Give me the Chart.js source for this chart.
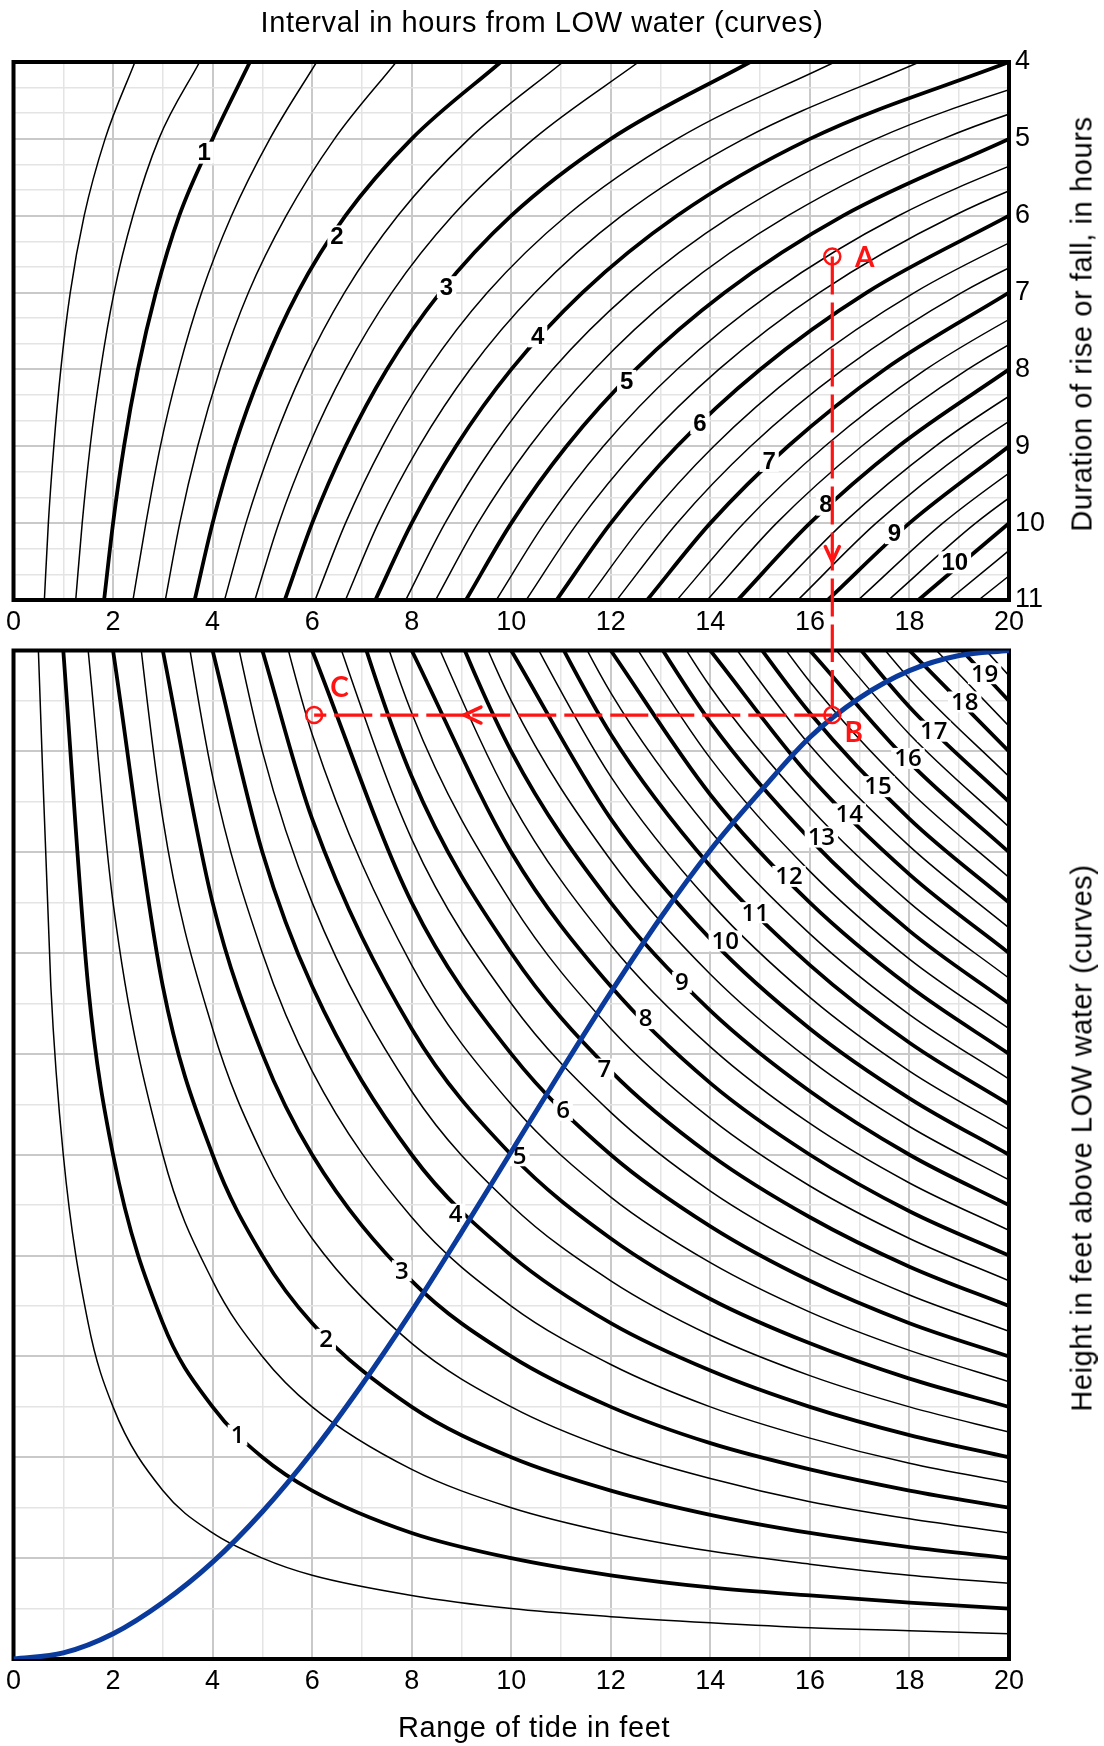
<!DOCTYPE html>
<html lang="en">
<head>
<meta charset="UTF-8">
<title>Height of tide at any time</title>
<script src="https://cdn.jsdelivr.net/npm/chart.js@4.4.0/dist/chart.umd.min.js"></script>
<style>
  body { margin: 0; background: #fff; }
  .page { position: relative; width: 1104px; height: 1746px; overflow: hidden;
          font-family: "Liberation Sans", Arial, sans-serif; color: #000; }
  canvas { position: absolute; left: 0; }
  #topChart { top: 0; }
  #bottomChart { top: 640px; }
  .title { position: absolute; font-size: 29px; letter-spacing: 0.6px; white-space: nowrap; line-height: 1; }
  .title.h { transform: translate(-50%, -50%); }
  .title.v { transform: translate(-50%, -50%) rotate(-90deg); }
</style>
</head>
<body>
<div class="page">
  <canvas id="topChart" width="1104" height="640"></canvas>
  <canvas id="bottomChart" width="1104" height="1106"></canvas>
  <div class="title h" style="left:542px; top:22px;">Interval in hours from LOW water (curves)</div>
  <div class="title v" style="left:1082px; top:324px;">Duration of rise or fall, in hours</div>
  <div class="title v" style="left:1082px; top:1138px;">Height in feet above LOW water (curves)</div>
  <div class="title h" style="left:534px; top:1727px;">Range of tide in feet</div>
</div>

<script>
// ---------- values ----------
const rangeTicks = [0, 2, 4, 6, 8, 10, 12, 14, 16, 18, 20];
const durationTicks = [4, 5, 6, 7, 8, 9, 10, 11];

// top panel: interval from low water (minutes, every 20 min, heavy line every hour)
const intervalMinutes = [20, 40, 60, 80, 100, 120, 140, 160, 180, 200, 220, 240, 260, 280, 300, 320, 340,
  360, 380, 400, 420, 440, 460, 480, 500, 520, 540, 560, 580, 600, 620, 640, 660];
// durations (h) where each interval curve was read, from the bottom of the panel up
const durationRows = [11, 10, 9, 8, 7, 6, 5, 4];
// range position (ft) of each interval curve at those durations
const intervalCurves = [
  [0.62, 0.70, 0.81, 0.95, 1.14, 1.42, 1.84, 2.44],
  [1.25, 1.38, 1.54, 1.75, 2.02, 2.40, 2.92, 3.74],
  [1.82, 2.00, 2.22, 2.50, 2.86, 3.33, 4.00, 4.75],
  [2.40, 2.66, 2.95, 3.32, 3.78, 4.38, 5.15, 6.09],
  [3.05, 3.34, 3.70, 4.15, 4.72, 5.48, 6.45, 7.69],
  [3.64, 4.00, 4.44, 5.00, 5.71, 6.67, 8.00, 9.79],
  [4.24, 4.67, 5.19, 5.83, 6.65, 7.72, 9.15, 11.04],
  [4.85, 5.33, 5.93, 6.67, 7.60, 8.82, 10.45, 12.56],
  [5.45, 6.00, 6.67, 7.50, 8.57, 10.00, 12.00, 14.80],
  [6.06, 6.67, 7.41, 8.33, 9.52, 11.11, 13.33, 16.50],
  [6.67, 7.33, 8.15, 9.17, 10.48, 12.22, 14.67, 18.20],
  [7.27, 8.00, 8.89, 10.00, 11.43, 13.33, 16.00, 20.00],
  [7.88, 8.67, 9.63, 10.83, 12.38, 14.44, 17.33, 21.67],
  [8.48, 9.33, 10.37, 11.67, 13.33, 15.56, 18.67, 23.33],
  [9.09, 10.00, 11.11, 12.50, 14.29, 16.67, 20.00],
  [9.70, 10.67, 11.85, 13.33, 15.24, 17.78, 21.33],
  [10.30, 11.33, 12.59, 14.17, 16.19, 18.89, 22.67],
  [10.91, 12.00, 13.33, 15.00, 17.14, 20.00],
  [11.52, 12.67, 14.07, 15.83, 18.10, 21.11],
  [12.12, 13.33, 14.81, 16.67, 19.05, 22.22],
  [12.73, 14.00, 15.56, 17.50, 20.00],
  [13.33, 14.67, 16.30, 18.33, 20.95],
  [13.94, 15.33, 17.04, 19.17, 21.90],
  [14.55, 16.00, 17.78, 20.00],
  [15.15, 16.67, 18.52, 20.83],
  [15.76, 17.33, 19.26, 21.67],
  [16.36, 18.00, 20.00],
  [16.97, 18.67, 20.74],
  [17.58, 19.33, 21.48],
  [18.18, 20.00],
  [18.79, 20.67],
  [19.39, 21.33],
  [20.00, 22.00]
];
const intervalLabels = ['1', '2', '3', '4', '5', '6', '7', '8', '9', '10'];
const intervalLabelRange = [3.83, 6.50, 8.70, 10.53, 12.32, 13.79, 15.18, 16.32, 17.70, 18.91];
const intervalLabelDur = [5.18, 6.27, 6.93, 7.57, 8.15, 8.70, 9.19, 9.76, 10.13, 10.51];

// bottom panel: height above low water (ft), heavy line every foot
const heightLevels = [0.5, 1, 1.5, 2, 2.5, 3, 3.5, 4, 4.5, 5, 5.5, 6, 6.5, 7, 7.5, 8, 8.5, 9, 9.5, 10,
  10.5, 11, 11.5, 12, 12.5, 13, 13.5, 14, 14.5, 15, 15.5, 16, 16.5, 17, 17.5, 18, 18.5, 19, 19.5];
// range columns (ft) where the height curves were read; each row fills the last columns
const rangeCols = [0.5, 0.75, 1, 1.5, 2, 3, 4, 5, 6, 8, 10, 12, 14, 16, 18, 20];
// fraction of range (0 = bottom of panel, 1 = top) for each height curve
const heightCurves = [
  [1.0, 0.667, 0.5, 0.333, 0.25, 0.167, 0.125, 0.1, 0.083, 0.063, 0.05, 0.042, 0.036, 0.031, 0.028, 0.025],
  [1.0, 0.667, 0.5, 0.333, 0.25, 0.2, 0.167, 0.125, 0.1, 0.083, 0.071, 0.063, 0.056, 0.05],
  [1.0, 0.75, 0.5, 0.375, 0.3, 0.25, 0.188, 0.15, 0.125, 0.107, 0.094, 0.083, 0.075],
  [1.0, 0.667, 0.5, 0.4, 0.333, 0.25, 0.2, 0.167, 0.143, 0.125, 0.111, 0.1],
  [1.25, 0.833, 0.625, 0.5, 0.417, 0.313, 0.25, 0.208, 0.179, 0.156, 0.139, 0.125],
  [1.0, 0.75, 0.6, 0.5, 0.375, 0.3, 0.25, 0.214, 0.188, 0.167, 0.15],
  [1.167, 0.875, 0.7, 0.583, 0.438, 0.35, 0.292, 0.25, 0.219, 0.194, 0.175],
  [1.0, 0.8, 0.667, 0.5, 0.4, 0.333, 0.286, 0.25, 0.222, 0.2],
  [1.125, 0.9, 0.75, 0.563, 0.45, 0.375, 0.321, 0.281, 0.25, 0.225],
  [1.0, 0.833, 0.625, 0.5, 0.417, 0.357, 0.313, 0.278, 0.25],
  [1.1, 0.917, 0.688, 0.55, 0.458, 0.393, 0.344, 0.306, 0.275],
  [1.0, 0.75, 0.6, 0.5, 0.429, 0.375, 0.333, 0.3],
  [1.083, 0.813, 0.65, 0.542, 0.464, 0.406, 0.361, 0.325],
  [1.167, 0.875, 0.7, 0.583, 0.5, 0.438, 0.389, 0.35],
  [1.25, 0.938, 0.75, 0.625, 0.536, 0.469, 0.417, 0.375],
  [1.0, 0.8, 0.667, 0.571, 0.5, 0.444, 0.4],
  [1.063, 0.85, 0.708, 0.607, 0.531, 0.472, 0.425],
  [1.125, 0.9, 0.75, 0.643, 0.563, 0.5, 0.45],
  [1.188, 0.95, 0.792, 0.679, 0.594, 0.528, 0.475],
  [1.0, 0.833, 0.714, 0.625, 0.556, 0.5],
  [1.05, 0.875, 0.75, 0.656, 0.583, 0.525],
  [1.1, 0.917, 0.786, 0.688, 0.611, 0.55],
  [1.15, 0.958, 0.821, 0.719, 0.639, 0.575],
  [1.0, 0.857, 0.75, 0.667, 0.6],
  [1.042, 0.893, 0.781, 0.694, 0.625],
  [1.083, 0.929, 0.813, 0.722, 0.65],
  [1.125, 0.964, 0.844, 0.75, 0.675],
  [1.0, 0.875, 0.778, 0.7],
  [1.036, 0.906, 0.806, 0.725],
  [1.071, 0.938, 0.833, 0.75],
  [1.107, 0.969, 0.861, 0.775],
  [1.0, 0.889, 0.8],
  [1.031, 0.917, 0.825],
  [1.063, 0.944, 0.85],
  [1.094, 0.972, 0.875],
  [1.0, 0.9],
  [1.028, 0.925],
  [1.056, 0.95],
  [1.083, 0.975]
];
const heightLabels = ['1', '2', '3', '4', '5', '6', '7', '8', '9', '10', '11', '12', '13', '14', '15', '16', '17', '18', '19'];
const heightLabelRange = [4.50, 6.28, 7.80, 8.88, 10.17, 11.04, 11.87, 12.70, 13.43, 14.30, 14.90, 15.58, 16.23, 16.79, 17.37, 17.97, 18.49, 19.11, 19.51];
const heightLabelFrac = [0.222, 0.317, 0.385, 0.441, 0.499, 0.544, 0.585, 0.635, 0.671, 0.712, 0.740, 0.776, 0.815, 0.838, 0.865, 0.893, 0.920, 0.949, 0.977];

// blue guide curve
const guideRange = [0, 1, 2, 3, 4, 5, 6, 7, 8, 9, 10, 11, 12, 13, 14, 15, 16, 17, 18, 19, 20];
const guideFrac = [0, 0.006, 0.025, 0.056, 0.096, 0.146, 0.205, 0.272, 0.345, 0.423, 0.503, 0.583,
  0.661, 0.735, 0.802, 0.860, 0.914, 0.953, 0.980, 0.995, 1.0];

// worked example A -> B -> C
const stepA = [16.45, 6.53];   // range, duration
const stepB = [16.45, 0.936];  // range, fraction
const stepC = [6.04, 0.936];
const topMarks = [{ text: 'A', x: 17.1, y: 6.55 }];
const bottomMarks = [{ text: 'B', x: 16.88, y: 0.918 }, { text: 'C', x: 6.55, y: 0.963 }];
const topArrows = [{ x: 16.45, y: 10.5, dir: 'down' }];
const bottomArrows = [{ x: 9.05, y: 0.936, dir: 'left' }];

// ---------- styling ----------
const RED = '#ff1414';
const BLUE = '#0a3a9c';
const tickFont = { family: 'Liberation Sans', size: 27 };

const durGrid = [];
for (let i = 0; i <= 21; i++) durGrid.push(4 + i / 3);
const fracGrid = [];
for (let i = 0; i <= 20; i++) fracGrid.push(i / 20);
const rangeGrid = [];
for (let i = 0; i <= 20; i++) rangeGrid.push(i);

function gridOpts(isMajor) {
  return {
    color: c => (c.tick && isMajor(c.tick.value)) ? '#c9c9c9' : '#e4e4e4',
    lineWidth: c => (c.tick && isMajor(c.tick.value)) ? 2 : 1.5,
    drawTicks: false
  };
}

function curveSet(points, thick) {
  return {
    data: points,
    showLine: true,
    pointRadius: 0,
    borderColor: '#000',
    borderWidth: thick ? 3.8 : 1.5,
    cubicInterpolationMode: 'monotone',
    order: 3
  };
}

function redLine(points, extra) {
  return Object.assign({
    data: points,
    showLine: true,
    pointRadius: 0,
    borderColor: RED,
    borderWidth: 3.2,
    borderDash: [38, 8],
    order: 1
  }, extra || {});
}

function redPoint(pt) {
  return {
    data: [pt],
    showLine: false,
    pointRadius: 8,
    pointBorderWidth: 2.5,
    pointBorderColor: RED,
    pointBackgroundColor: 'rgba(255,255,255,0)',
    order: 0
  };
}

const framePlugin = {
  id: 'frame',
  beforeDatasetsDraw(chart) {
    const { ctx, chartArea: a } = chart;
    ctx.save();
    ctx.lineWidth = 4;
    ctx.strokeStyle = '#000';
    ctx.strokeRect(a.left, a.top, a.right - a.left, a.bottom - a.top);
    ctx.restore();
  }
};

// curve numbers with a white gap, drawn before the first coloured dataset
function labelPlugin(texts, xs, ys, font, boxH) {
  return {
    id: 'curveLabels',
    beforeDatasetDraw(chart, args) {
      if (!chart.data.datasets[args.index].labelsBelow) return;
      const { ctx, scales: { x, y } } = chart;
      ctx.save();
      ctx.font = font;
      ctx.textAlign = 'center';
      ctx.textBaseline = 'middle';
      texts.forEach((t, i) => {
        const px = x.getPixelForValue(xs[i]);
        const py = y.getPixelForValue(ys[i]);
        const w = ctx.measureText(t).width + 6;
        ctx.fillStyle = '#fff';
        ctx.fillRect(px - w / 2, py - boxH / 2, w, boxH);
        ctx.fillStyle = '#000';
        ctx.fillText(t, px, py + 1);
      });
      ctx.restore();
    }
  };
}

function markPlugin(marks, arrows) {
  return {
    id: 'marks',
    afterDatasetsDraw(chart) {
      const { ctx, scales: { x, y } } = chart;
      ctx.save();
      ctx.fillStyle = RED;
      ctx.font = 'bold 28px Lato';
      ctx.textAlign = 'center';
      ctx.textBaseline = 'middle';
      marks.forEach(m => ctx.fillText(m.text, x.getPixelForValue(m.x), y.getPixelForValue(m.y)));
      ctx.strokeStyle = RED;
      ctx.lineWidth = 3.5;
      ctx.lineCap = 'round';
      arrows.forEach(a => {
        const px = x.getPixelForValue(a.x), py = y.getPixelForValue(a.y);
        ctx.beginPath();
        if (a.dir === 'down') {
          ctx.moveTo(px - 7, py - 15); ctx.lineTo(px, py); ctx.lineTo(px + 7, py - 15);
        } else {
          ctx.moveTo(px + 17, py - 8); ctx.lineTo(px, py); ctx.lineTo(px + 17, py + 8);
        }
        ctx.stroke();
      });
      ctx.restore();
    }
  };
}

const xAxis = (height) => ({
  type: 'linear',
  min: 0,
  max: 20,
  position: 'bottom',
  afterBuildTicks: s => { s.ticks = rangeGrid.map(v => ({ value: v })); },
  afterFit: s => { s.height = height; },
  grid: gridOpts(v => v % 2 === 0),
  border: { display: false },
  ticks: {
    autoSkip: false,
    maxRotation: 0,
    padding: 6,
    color: '#000',
    font: tickFont,
    callback: v => rangeTicks.includes(v) ? String(v) : ''
  }
});

const baseOptions = {
  responsive: false,
  animation: false,
  devicePixelRatio: 1,
  events: [],
  plugins: { legend: { display: false }, tooltip: { enabled: false } }
};

// ---------- top panel ----------
const topSets = intervalCurves.map((row, i) =>
  curveSet(row.map((r, j) => ({ x: r, y: durationRows[j] })), intervalMinutes[i] % 60 === 0));
topSets.push(redLine([{ x: stepA[0], y: stepA[1] }, { x: stepA[0], y: 12.5 }], { clip: false, labelsBelow: true }));
topSets.push(redPoint({ x: stepA[0], y: stepA[1] }));

new Chart(document.getElementById('topChart'), {
  type: 'scatter',
  data: { datasets: topSets },
  options: Object.assign({}, baseOptions, {
    layout: { padding: { left: 12, top: 62, right: 0, bottom: 0 } },
    scales: {
      x: xAxis(40),
      y: {
        type: 'linear',
        min: 4,
        max: 11,
        reverse: true,
        position: 'right',
        afterBuildTicks: s => { s.ticks = durGrid.map(v => ({ value: v })); },
        afterFit: s => { s.width = 95; },
        grid: gridOpts(v => Math.abs(v - Math.round(v)) < 1e-6),
        border: { display: false },
        ticks: {
          autoSkip: false,
          padding: 6,
          color: '#000',
          font: tickFont,
          callback: v => (Math.abs(v - Math.round(v)) < 1e-6 && durationTicks.includes(Math.round(v))) ? String(Math.round(v)) : ''
        }
      }
    }
  }),
  plugins: [framePlugin,
    labelPlugin(intervalLabels, intervalLabelRange, intervalLabelDur, 'bold 24px "Liberation Sans"', 22),
    markPlugin(topMarks, topArrows)]
});

// ---------- bottom panel ----------
const bottomSets = heightCurves.map((row, i) => {
  const start = rangeCols.length - row.length;
  return curveSet(row.map((f, j) => ({ x: rangeCols[start + j], y: f })), heightLevels[i] % 1 === 0);
});
bottomSets.push({
  data: guideRange.map((r, i) => ({ x: r, y: guideFrac[i] })),
  showLine: true,
  pointRadius: 0,
  borderColor: BLUE,
  borderWidth: 5,
  cubicInterpolationMode: 'monotone',
  order: 2,
  labelsBelow: true
});
bottomSets.push(redLine([{ x: stepB[0], y: 1.3 }, { x: stepB[0], y: stepB[1] }], { clip: false }));
bottomSets.push(redLine([{ x: stepB[0], y: stepB[1] }, { x: stepC[0], y: stepC[1] }]));
bottomSets.push(redPoint({ x: stepB[0], y: stepB[1] }));
bottomSets.push(redPoint({ x: stepC[0], y: stepC[1] }));

new Chart(document.getElementById('bottomChart'), {
  type: 'scatter',
  data: { datasets: bottomSets },
  options: Object.assign({}, baseOptions, {
    layout: { padding: { left: 12, top: 8, right: 0, bottom: 0 } },
    scales: {
      x: xAxis(87),
      y: {
        type: 'linear',
        min: 0,
        max: 1,
        position: 'right',
        afterBuildTicks: s => { s.ticks = fracGrid.map(v => ({ value: v })); },
        afterFit: s => { s.width = 95; },
        grid: gridOpts(v => Math.round(v * 20) % 2 === 0),
        border: { display: false },
        ticks: { display: false }
      }
    }
  }),
  plugins: [framePlugin,
    labelPlugin(heightLabels, heightLabelRange, heightLabelFrac, '600 24px "Open Sans"', 21),
    markPlugin(bottomMarks, bottomArrows)]
});
</script>
</body>
</html>
